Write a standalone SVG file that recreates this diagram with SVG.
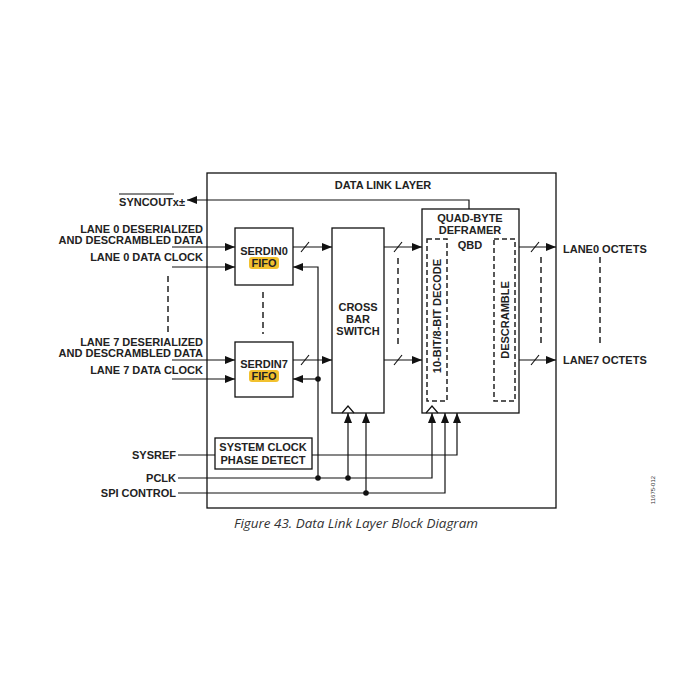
<svg xmlns="http://www.w3.org/2000/svg" width="700" height="700" viewBox="0 0 700 700">
<defs>
<marker id="ah" viewBox="0 0 10 8" refX="10" refY="4" markerWidth="10" markerHeight="8" markerUnits="userSpaceOnUse" orient="auto">
<path d="M0,0 L10,4 L0,8 Z" fill="#111"/>
</marker>
</defs>
<style>
.box{fill:#fff;stroke:#111;stroke-width:1.3}
.ln{fill:none;stroke:#111;stroke-width:1.2}
.arr{fill:none;stroke:#111;stroke-width:1.2;marker-end:url(#ah)}
.dash{fill:none;stroke:#222;stroke-width:1.5;stroke-dasharray:6,4}
.dbox{fill:none;stroke:#222;stroke-width:1.5;stroke-dasharray:5,3}
.t{font-family:"Liberation Sans",Arial,sans-serif;font-weight:bold;font-size:11px;fill:#222}
.r{text-anchor:end}
.m{text-anchor:middle}
.dot{fill:#111}
</style>
<rect width="700" height="700" fill="#fff"/>
<g id="data-link-layer">
<rect class="box" x="207" y="173" width="349" height="335"/>
<text class="t m" x="383" y="189">DATA LINK LAYER</text>
</g>
<g id="serdin0">
<rect class="box" x="235" y="228" width="58" height="57"/>
<text class="t m" x="264" y="255">SERDIN0</text>
<rect x="249" y="257" width="30" height="12" rx="3" fill="#f2c12e"/>
<text class="t m" x="264" y="267">FIFO</text>
</g>
<g id="serdin7">
<rect class="box" x="235" y="342" width="58" height="55"/>
<text class="t m" x="264" y="368">SERDIN7</text>
<rect x="249" y="370" width="30" height="12" rx="3" fill="#f2c12e"/>
<text class="t m" x="264" y="380">FIFO</text>
</g>
<g id="crossbar">
<rect class="box" x="332" y="228" width="52" height="185"/>
<text class="t m" x="358" y="311">CROSS</text>
<text class="t m" x="358" y="323">BAR</text>
<text class="t m" x="358" y="335">SWITCH</text>
<path class="ln" d="M342,413 L348,406 L354,413"/>
</g>
<g id="qbd">
<rect class="box" x="422" y="209" width="97" height="204"/>
<text class="t m" x="470" y="222">QUAD-BYTE</text>
<text class="t m" x="470" y="234">DEFRAMER</text>
<text class="t m" x="470" y="249">QBD</text>
<rect class="dbox" x="427" y="239" width="20" height="162"/>
<text class="t m" transform="translate(441,316) rotate(-90)">10-BIT/8-BIT DECODE</text>
<rect class="dbox" x="494" y="239" width="21" height="162"/>
<text class="t m" transform="translate(509,320) rotate(-90)">DESCRAMBLE</text>
<path class="ln" d="M426,413 L432,406 L438,413"/>
</g>
<g id="sysclk">
<rect class="box" x="215" y="438" width="97" height="31"/>
<text class="t m" x="263" y="451">SYSTEM CLOCK</text>
<text class="t m" x="263" y="464">PHASE DETECT</text>
</g>
<g id="labels">
<text class="t r" x="185" y="206" >SYNCOUTx±</text>
<line class="ln" x1="119" y1="194" x2="174" y2="194" stroke-width="1"/>
<text class="t r" x="203" y="233">LANE 0 DESERIALIZED</text>
<text class="t r" x="203" y="244">AND DESCRAMBLED DATA</text>
<text class="t r" x="203" y="261">LANE 0 DATA CLOCK</text>
<text class="t r" x="203" y="346">LANE 7 DESERIALIZED</text>
<text class="t r" x="203" y="357">AND DESCRAMBLED DATA</text>
<text class="t r" x="203" y="374">LANE 7 DATA CLOCK</text>
<text class="t" x="563" y="253">LANE0 OCTETS</text>
<text class="t" x="563" y="364">LANE7 OCTETS</text>
<text class="t r" x="176" y="459">SYSREF</text>
<text class="t r" x="176" y="482">PCLK</text>
<text class="t r" x="176" y="497">SPI CONTROL</text>
<text x="356" y="528" text-anchor="middle" font-family="'Open Sans','Liberation Sans',sans-serif" font-style="italic" font-size="13" fill="#333" textLength="244" lengthAdjust="spacingAndGlyphs">Figure 43. Data Link Layer Block Diagram</text>
<text transform="translate(655,490) rotate(-90)" text-anchor="middle" font-family="'Liberation Sans',sans-serif" font-size="6" fill="#333">11675-012</text>
</g>
<g id="connectors">
<path class="arr" d="M469,209 V200 H187"/>
<path class="arr" d="M172,247 H235"/>
<path class="arr" d="M172,267 H235"/>
<path class="arr" d="M172,360 H235"/>
<path class="arr" d="M172,379 H235"/>
<path class="arr" d="M293,247 H332"/>
<path class="arr" d="M293,360 H332"/>
<path class="arr" d="M384,247 H422"/>
<path class="arr" d="M384,360 H422"/>
<path class="arr" d="M519,247 H556"/>
<path class="arr" d="M519,360 H556"/>
<g class="ln">
<line x1="301" y1="252" x2="309" y2="242"/>
<line x1="301" y1="365" x2="309" y2="355"/>
<line x1="394" y1="252" x2="402" y2="242"/>
<line x1="394" y1="365" x2="402" y2="355"/>
<line x1="531" y1="252" x2="539" y2="242"/>
<line x1="531" y1="365" x2="539" y2="355"/>
</g>
<path class="arr" d="M318,478 V267 H293"/>
<path class="arr" d="M318,379 H293"/>
<circle class="dot" cx="318" cy="379" r="2.8"/>
<path class="ln" d="M178,455 H215"/>
<path class="arr" d="M312,455 H457 V413"/>
<path class="arr" d="M178,478 H432 V413"/>
<path class="arr" d="M348,478 V413"/>
<circle class="dot" cx="318" cy="478" r="2.8"/>
<circle class="dot" cx="348" cy="478" r="2.8"/>
<path class="arr" d="M178,493 H445 V413"/>
<path class="arr" d="M366,493 V413"/>
<circle class="dot" cx="366" cy="493" r="2.8"/>
<line class="dash" x1="168" y1="276" x2="168" y2="333"/>
<line class="dash" x1="263" y1="292" x2="263" y2="334"/>
<line class="dash" x1="398" y1="258" x2="398" y2="345"/>
<line class="dash" x1="541" y1="257" x2="541" y2="345"/>
<line class="dash" x1="600" y1="257" x2="600" y2="345"/>
</g>
</svg>
